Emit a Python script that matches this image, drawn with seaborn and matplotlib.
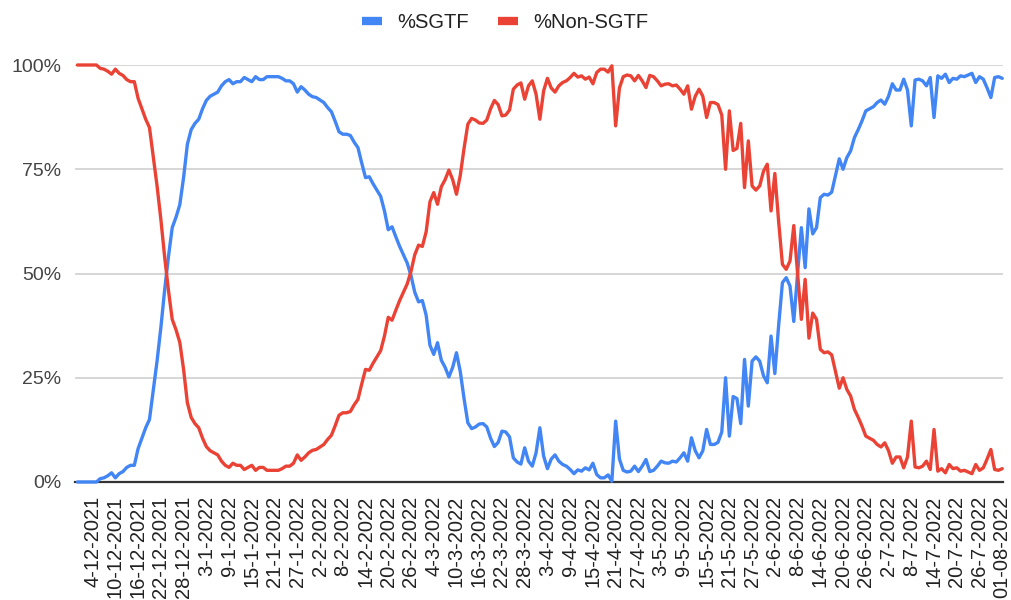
import pandas as pd
import seaborn as sns
import matplotlib.pyplot as plt
from datetime import datetime

sns.set_style("white")
plt.rcParams['font.family'] = ['Liberation Sans', 'DejaVu Sans']

# daily values, 30-11-2021 .. 01-08-2022
start_date = "2021-11-30"
end_date = "2022-08-01"

sgtf = [
    0, 0, 0, 0, 0, 0, 0.8, 1, 1.5, 2.2,
    1, 2, 2.5, 3.5, 4, 4, 8, 10.5, 13, 15,
    22, 29, 37, 46, 54, 61, 63.5, 66.5, 73, 81,
    84.5, 86, 87, 89.5, 91.5, 92.5, 93, 93.5, 95, 96,
    96.5, 95.5, 96, 96, 97, 96.5, 96, 97.2, 96.5, 96.5,
    97.2, 97.2, 97.2, 97.2, 96.8, 96.2, 96.2, 95.5, 93.5, 94.8,
    94, 93, 92.4, 92.2, 91.6, 91, 89.8, 88.8, 86.5, 84,
    83.4, 83.4, 83.1, 81.5, 80.2, 76.5, 73, 73.2, 71.5, 70,
    68.5, 65, 60.5, 61.2, 58.8, 56.5, 54.5, 52.5, 49.5, 45.5,
    43.2, 43.5, 40, 32.8, 30.6, 33.4, 29.2, 27.5, 25.2, 27.5,
    31, 26.5, 20, 14.2, 12.8, 13.2, 13.9, 14, 13.2, 10.5,
    8.5, 9.5, 12.2, 12, 10.8, 5.8, 4.8, 4.3, 8.2, 5,
    3.8, 7, 13, 6.2, 3.2, 5.5, 6.5, 5, 4.2, 3.8,
    3, 2, 2.9, 2.6, 3.4, 2.9, 4.5, 1.8, 1, 1,
    1.7, 0.2, 14.6, 5.5, 2.8, 2.4, 2.6, 3.8, 2.5, 3.8,
    5.4, 2.5, 2.8, 3.8, 5, 4.6, 4.5, 5, 4.8, 5.8,
    7, 5, 10.6, 7.5, 5.8, 7.5, 12.6, 9, 9, 9.5,
    12, 25, 11, 20.5, 20, 14, 29.4, 18.2, 29, 30,
    29, 25.5, 23.8, 35, 26, 37.5, 47.8, 49, 47, 38.5,
    50, 61, 51.4, 65.5, 59.5, 61, 68.2, 69, 68.8, 69.5,
    73.5, 77.5, 75, 77.8, 79.4, 82.6, 84.5, 86.6, 89, 89.5,
    90, 91, 91.6, 90.6, 92.5, 95.5, 94, 94, 96.6, 94,
    85.4, 96.4, 96.6, 96.2, 95, 97, 87.4, 97.4, 96.8, 97.8,
    95.8, 96.8, 96.6, 97.4, 97.2, 97.6, 98, 95.8, 97.2, 96.6,
    94.5, 92.2, 97, 97.2, 96.8,
]

non_sgtf = [
    100, 100, 100, 100, 100, 100, 99.2, 99, 98.5, 97.8,
    99, 98, 97.5, 96.5, 96, 96, 92, 89.5, 87, 85,
    78, 71, 63, 54, 46, 39, 36.5, 33.5, 27, 19,
    15.5, 14, 13, 10.5, 8.5, 7.5, 7, 6.5, 5, 4,
    3.5, 4.5, 4, 4, 3, 3.5, 4, 2.8, 3.5, 3.5,
    2.8, 2.8, 2.8, 2.8, 3.2, 3.8, 3.8, 4.5, 6.5, 5.2,
    6, 7, 7.6, 7.8, 8.4, 9, 10.2, 11.2, 13.5, 16,
    16.6, 16.6, 16.9, 18.5, 19.8, 23.5, 27, 26.8, 28.5, 30,
    31.5, 35, 39.5, 38.8, 41.2, 43.5, 45.5, 47.5, 50.5, 54.5,
    56.8, 56.5, 60, 67.2, 69.4, 66.6, 70.8, 72.5, 74.8, 72.5,
    69, 73.5, 80, 85.8, 87.2, 86.8, 86.1, 86, 86.8, 89.5,
    91.5, 90.5, 87.8, 88, 89.2, 94.2, 95.2, 95.7, 91.8, 95,
    96.2, 93, 87, 93.8, 96.8, 94.5, 93.5, 95, 95.8, 96.2,
    97, 98, 97.1, 97.4, 96.6, 97.1, 95.5, 98.2, 99, 99,
    98.3, 99.8, 85.4, 94.5, 97.2, 97.6, 97.4, 96.2, 97.5, 96.2,
    94.6, 97.5, 97.2, 96.2, 95, 95.4, 95.5, 95, 95.2, 94.2,
    93, 95, 89.4, 92.5, 94.2, 92.5, 87.4, 91, 91, 90.5,
    88, 75, 89, 79.5, 80, 86, 70.6, 81.8, 71, 70,
    71, 74.5, 76.2, 65, 74, 62.5, 52.2, 51, 53, 61.5,
    50, 39, 48.6, 34.5, 40.5, 39, 31.8, 31, 31.2, 30.5,
    26.5, 22.5, 25, 22.2, 20.6, 17.4, 15.5, 13.4, 11, 10.5,
    10, 9, 8.4, 9.4, 7.5, 4.5, 6, 6, 3.4, 6,
    14.6, 3.6, 3.4, 3.8, 5, 3, 12.6, 2.6, 3.2, 2.2,
    4.2, 3.2, 3.4, 2.6, 2.8, 2.4, 2, 4.2, 2.8, 3.4,
    5.5, 7.8, 3, 2.8, 3.2,
]

tick_labels = [
    "4-12-2021", "10-12-2021", "16-12-2021", "22-12-2021", "28-12-2021",
    "3-1-2022", "9-1-2022", "15-1-2022", "21-1-2022", "27-1-2022",
    "2-2-2022", "8-2-2022", "14-2-2022", "20-2-2022", "26-2-2022",
    "4-3-2022", "10-3-2022", "16-3-2022", "22-3-2022", "28-3-2022",
    "3-4-2022", "9-4-2022", "15-4-2022", "21-4-2022", "27-4-2022",
    "3-5-2022", "9-5-2022", "15-5-2022", "21-5-2022", "27-5-2022",
    "2-6-2022", "8-6-2022", "14-6-2022", "20-6-2022", "26-6-2022",
    "2-7-2022", "8-7-2022", "14-7-2022", "20-7-2022", "26-7-2022",
    "01-08-2022",
]

series_names = ["%SGTF", "%Non-SGTF"]
colors = ["#4285F4", "#EA4335"]

dates = pd.date_range(start_date, end_date, freq="D")
df = pd.concat([
    pd.DataFrame({"date": dates, "value": sgtf, "series": series_names[0]}),
    pd.DataFrame({"date": dates, "value": non_sgtf, "series": series_names[1]}),
])

fig = plt.figure(figsize=(10.11, 6.0), dpi=100)
ax = fig.add_axes([75 / 1011, 118 / 600, 928 / 1011, 417 / 600])

sns.lineplot(data=df, x="date", y="value", hue="series", hue_order=series_names,
             palette=colors, linewidth=2.4, ax=ax, zorder=3, clip_on=False)

for line in ax.get_lines():
    line.set_solid_capstyle("round")
    line.set_solid_joinstyle("round")

ax.set_ylim(0, 100)
ax.set_xlim(dates[0] - pd.Timedelta(days=0.65), dates[-1] + pd.Timedelta(days=0.2))
ax.set_yticks([0, 25, 50, 75, 100])
ax.set_yticklabels(["0%", "25%", "50%", "75%", "100%"])
tick_pos = [datetime.strptime(t, "%d-%m-%Y") for t in tick_labels]
ax.set_xticks(tick_pos)
ax.set_xticklabels(tick_labels, rotation=90)
ax.tick_params(axis="x", length=0, pad=10, labelsize=14.5, colors="#222222")
ax.tick_params(axis="y", length=0, pad=10, labelsize=14, colors="#444444")
ax.set_xlabel("")
ax.set_ylabel("")

ax.grid(axis="y", color="#cccccc", linewidth=1.1)
ax.grid(axis="x", visible=False)
for side in ["top", "right", "left"]:
    ax.spines[side].set_visible(False)
ax.spines["bottom"].set_color("#333333")
ax.spines["bottom"].set_linewidth(1.6)

# legend centred on the figure, above the plot
sns.move_legend(ax, "center", bbox_to_anchor=(0.5, 0.963), bbox_transform=fig.transFigure,
                ncol=2, frameon=False, title=None, fontsize=14.5,
                handlelength=1.0, columnspacing=1.45, handletextpad=0.75)
leg = ax.get_legend()
for h in leg.legend_handles:
    h.set_linewidth(6)
    h.set_solid_capstyle("butt")
for t in leg.get_texts():
    t.set_color("#222222")

plt.savefig("out.png", dpi=100)
